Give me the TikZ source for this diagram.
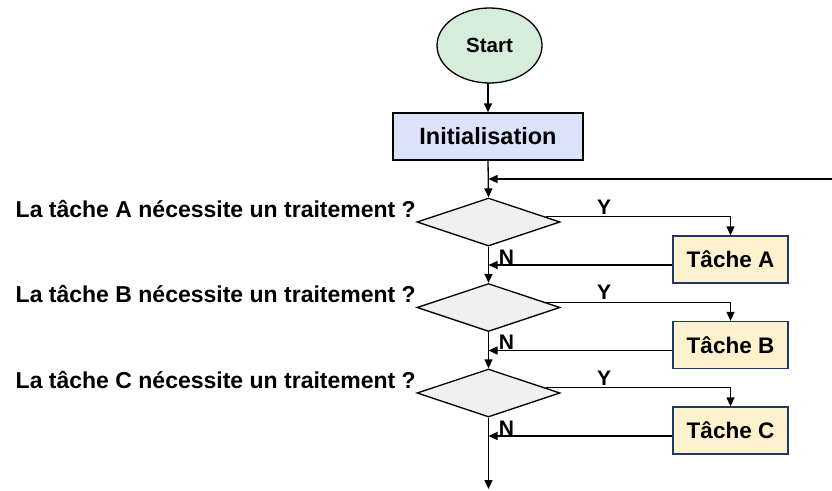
\documentclass[tikz,border=0pt]{standalone}
\usepackage{fontspec}
\setmainfont{Liberation Sans}
\usetikzlibrary{shapes.geometric,arrows.meta,calc}

\definecolor{startfill}{RGB}{214,237,220}
\definecolor{initfill}{RGB}{218,227,250}
\definecolor{decfill}{RGB}{240,240,240}
\definecolor{taskfill}{RGB}{253,241,206}
\definecolor{taskline}{RGB}{31,56,100}

\tikzset{
  flow/.style={line width=1.3pt},
  arr/.style={flow,-{Triangle[length=9pt,width=8pt]}},
  startnode/.style={ellipse,draw,flow,fill=startfill,inner sep=0pt,
    minimum width=105pt,minimum height=75pt,font=\bfseries\fontsize{20.5}{24}\selectfont},
  initnode/.style={rectangle,draw,flow,fill=initfill,inner sep=0pt,
    minimum width=190pt,minimum height=47pt,font=\bfseries\fontsize{23.5}{27}\selectfont},
  decision/.style={diamond,draw,flow,fill=decfill,inner sep=0pt,
    minimum width=143pt,minimum height=48pt},
  tasknode/.style={rectangle,draw=taskline,flow,fill=taskfill,inner sep=0pt,
    minimum width=115pt,minimum height=47pt,font=\bfseries\fontsize{22.5}{26}\selectfont},
  question/.style={anchor=base east,inner sep=0pt,font=\bfseries\fontsize{23}{26}\selectfont},
  branch/.style={anchor=base,inner sep=0pt,font=\bfseries\fontsize{21}{24}\selectfont}
}

\begin{document}
\begin{tikzpicture}[x=1pt,y=-1pt]
\useasboundingbox (0,0) rectangle (832,490);

\node[startnode] (start) at (489.5,45.5) {Start};
\node[initnode] (init) at (488,136.5) {Initialisation};

\node[decision] (dA) at (488.5,222) {};
\node[decision] (dB) at (488.5,307.5) {};
\node[decision] (dC) at (488.5,393) {};

\node[tasknode] (tA) at (730.5,259.5) {Tâche A};
\node[tasknode] (tB) at (730.5,345) {Tâche B};
\node[tasknode] (tC) at (730.5,430.5) {Tâche C};

\node[question] (qA) at (416,217) {La tâche A nécessite un traitement ?};
\node[question] (qB) at (416,302.5) {La tâche B nécessite un traitement ?};
\node[question] (qC) at (416,388) {La tâche C nécessite un traitement ?};

\coordinate (loopin) at (832,179);
\coordinate (exit) at (488.5,489);

% main flow
\draw[arr] (start.south) -- (init.south |- start.south) -- (init.north);
\draw[arr] (init.south) -- (dA.north);
\draw[arr] (loopin) -- (loopin -| dA.north);
\draw[arr] (dA.south) -- (dB.north);
\draw[arr] (dB.south) -- (dC.north);
\draw[arr] (dC.south) -- (exit);

% yes branches and returns
\foreach \d/\t in {dA/tA,dB/tB,dC/tC}{
  \draw[arr] ($(\d.north)!0.79!(\d.east)$) -| (\t.north);
  \draw[arr] ($(\t.west)+(0,5.5)$) -- ($(\t.west -| \d.south)+(0,5.5)$);
}

% branch labels
\foreach \d in {dA,dB,dC}{
  \node[branch] (y\d) at ($(\d.center)+(115.5,-8)$) {Y};
  \node[branch] (n\d) at ($(\d.center)+(18,42)$) {N};
}
\end{tikzpicture}
\end{document}
